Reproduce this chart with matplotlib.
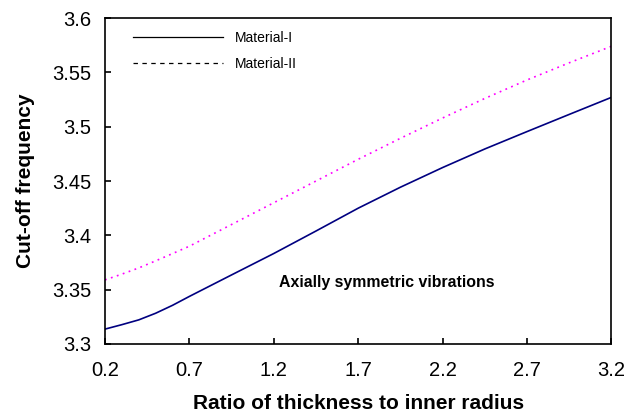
import matplotlib.pyplot as plt
from matplotlib.lines import Line2D

plt.rcParams['font.family'] = ['Liberation Sans', 'DejaVu Sans']
plt.rcParams['lines.scale_dashes'] = False

# thickness / inner radius ratio
ratio = [0.2, 0.3, 0.4, 0.5, 0.6, 0.7, 0.95, 1.2, 1.45, 1.7, 1.95, 2.2, 2.45, 2.7, 2.95, 3.2]

# cut-off frequency for both materials
freq_mat1 = [3.3137, 3.3178, 3.3222, 3.3283, 3.3356, 3.3438, 3.3636, 3.3833, 3.4040,
             3.4250, 3.4443, 3.4624, 3.4795, 3.4955, 3.5113, 3.5270]
freq_mat2 = [3.3590, 3.3643, 3.3700, 3.3765, 3.3832, 3.3900, 3.4100, 3.4300, 3.4500,
             3.4700, 3.4893, 3.5080, 3.5260, 3.5430, 3.5588, 3.5740]

x_ticks = [0.2, 0.7, 1.2, 1.7, 2.2, 2.7, 3.2]
y_ticks = [3.3, 3.35, 3.4, 3.45, 3.5, 3.55, 3.6]

fig = plt.figure(figsize=(6.28, 4.15), dpi=100)
ax = fig.add_axes([0.1672, 0.1711, 0.8065, 0.7855])

ax.plot(ratio, freq_mat1, color='#000080', lw=1.2)
ax.plot(ratio, freq_mat2, color='#ff00ff', lw=1.2, dashes=(1.3, 3.2))

ax.set_xlim(0.2, 3.2)
ax.set_ylim(3.3, 3.6)
ax.set_xticks(x_ticks)
ax.set_xticklabels([f'{v:g}' for v in x_ticks])
ax.set_yticks(y_ticks)
ax.set_yticklabels([f'{v:g}' for v in y_ticks])

ax.tick_params(direction='in', length=4, width=1.2, labelsize=14.5)
ax.tick_params(axis='y', pad=10)
ax.tick_params(axis='x', pad=12)
for s in ax.spines.values():
    s.set_linewidth(1.2)

ax.set_xlabel('Ratio of thickness to inner radius', fontsize=15, fontweight='bold', labelpad=10)
ax.set_ylabel('Cut-off frequency', fontsize=15, fontweight='bold', labelpad=12)

ax.text(1.23, 3.357, 'Axially symmetric vibrations', fontsize=11.4, fontweight='bold',
        va='center', ha='left')

# legend uses plain black lines
handles = [Line2D([], [], color='black', lw=0.9),
           Line2D([], [], color='black', lw=0.9, dashes=(3.2, 3.2))]
ax.legend(handles, ['Material-I', 'Material-II'], loc='upper left', frameon=False,
          fontsize=10, handlelength=6.5, handletextpad=0.85, labelspacing=0.9,
          bbox_to_anchor=(0.03, 1.0))

fig.savefig('out.png', dpi=100)
